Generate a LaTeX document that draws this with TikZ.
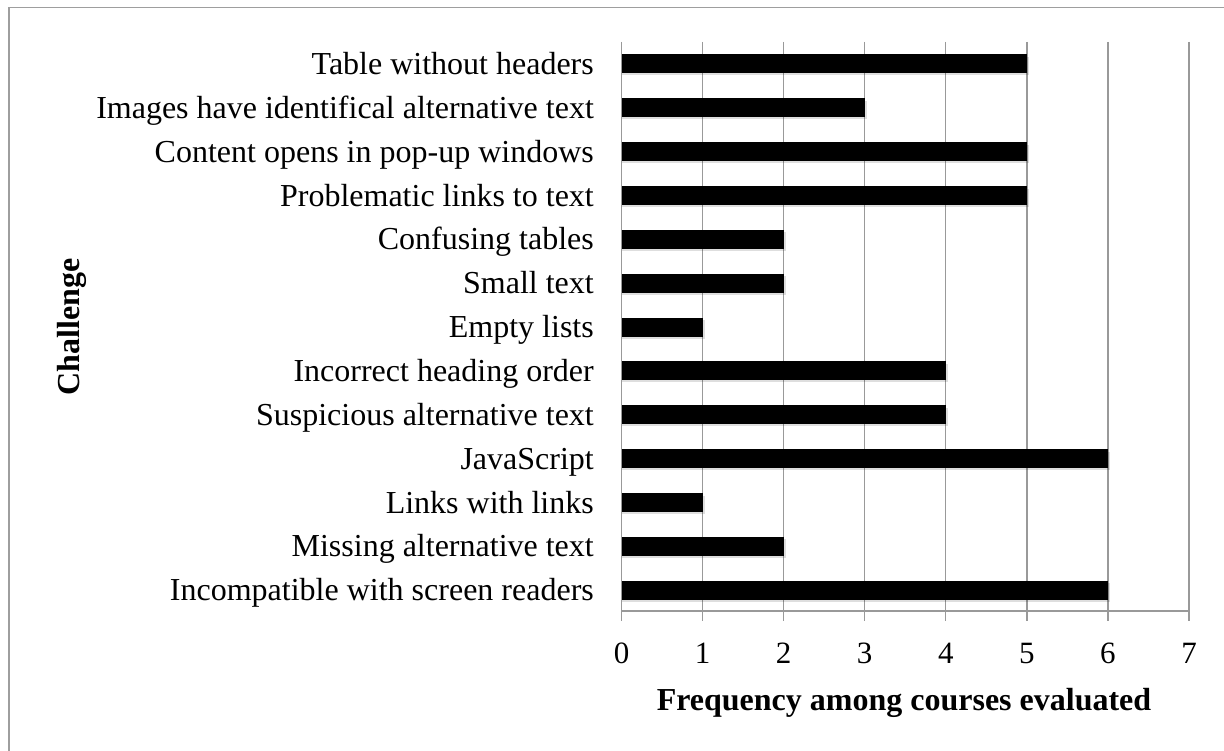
\documentclass[tikz,border=0pt]{standalone}
\usepackage{fontspec}
\setmainfont{Liberation Serif}
\usepackage{tikz}

\begin{document}
\begin{tikzpicture}
            [x=1pt, y=-1pt,
             every node/.style={inner sep=0pt},
             frame/.style={line width=1.5pt, draw=black!38},
             gridline/.style={line width=1.4pt, draw=black!40},
             bar/.style={fill=black},
             barshadow/.style={fill=black, opacity=0.13},
             catlabel/.style={anchor=base east, font=\fontsize{32}{36}\selectfont},
             ticklabel/.style={anchor=base, font=\fontsize{31}{36}\selectfont},
             axistitle/.style={font=\fontsize{32}{36}\selectfont\bfseries}]
                \useasboundingbox (0, 0) rectangle (1224, 751);
                \draw [frame] (1224, 7.5) -- (9, 7.5) -- (9, 751);
                % grid
                \draw [gridline] (702.57, 42) -- (702.57, 621);
                \draw [gridline] (783.64, 42) -- (783.64, 621);
                \draw [gridline] (864.71, 42) -- (864.71, 621);
                \draw [gridline] (945.78, 42) -- (945.78, 621);
                \draw [gridline] (1026.85, 42) -- (1026.85, 621);
                \draw [gridline] (1107.92, 42) -- (1107.92, 621);
                \draw [gridline] (1188.99, 42) -- (1188.99, 621);
                \draw [gridline] (621.5, 42) -- (621.5, 621);
                \draw [gridline] (621.5, 611) -- (1188.99, 611);
                % bars
                \fill [barshadow] (621.5, 57) rectangle (1028.85, 75.5);
                \fill [barshadow] (621.5, 100.85) rectangle (866.71, 119.35);
                \fill [barshadow] (621.5, 144.7) rectangle (1028.85, 163.2);
                \fill [barshadow] (621.5, 188.55) rectangle (1028.85, 207.05);
                \fill [barshadow] (621.5, 232.4) rectangle (785.64, 250.9);
                \fill [barshadow] (621.5, 276.25) rectangle (785.64, 294.75);
                \fill [barshadow] (621.5, 320.1) rectangle (704.57, 338.6);
                \fill [barshadow] (621.5, 363.95) rectangle (947.78, 382.45);
                \fill [barshadow] (621.5, 407.8) rectangle (947.78, 426.3);
                \fill [barshadow] (621.5, 451.65) rectangle (1109.92, 470.15);
                \fill [barshadow] (621.5, 495.5) rectangle (704.57, 514);
                \fill [barshadow] (621.5, 539.35) rectangle (785.64, 557.85);
                \fill [barshadow] (621.5, 583.2) rectangle (1109.92, 601.7);
                \fill [bar] (621.5, 54.5) rectangle (1026.85, 73.5);
                \fill [bar] (621.5, 98.35) rectangle (864.71, 117.35);
                \fill [bar] (621.5, 142.2) rectangle (1026.85, 161.2);
                \fill [bar] (621.5, 186.05) rectangle (1026.85, 205.05);
                \fill [bar] (621.5, 229.9) rectangle (783.64, 248.9);
                \fill [bar] (621.5, 273.75) rectangle (783.64, 292.75);
                \fill [bar] (621.5, 317.6) rectangle (702.57, 336.6);
                \fill [bar] (621.5, 361.45) rectangle (945.78, 380.45);
                \fill [bar] (621.5, 405.3) rectangle (945.78, 424.3);
                \fill [bar] (621.5, 449.15) rectangle (1107.92, 468.15);
                \fill [bar] (621.5, 493) rectangle (702.57, 512);
                \fill [bar] (621.5, 536.85) rectangle (783.64, 555.85);
                \fill [bar] (621.5, 580.7) rectangle (1107.92, 599.7);
                % category labels
                \node (c1) [catlabel] at (594, 74.5) {Table without headers};
                \node (c2) [catlabel] at (594, 118.35) {Images have identifical alternative text};
                \node (c3) [catlabel] at (594, 162.2) {Content opens in pop-up windows};
                \node (c4) [catlabel] at (594, 206.05) {Problematic links to text};
                \node (c5) [catlabel] at (594, 249.9) {Confusing tables};
                \node (c6) [catlabel] at (594, 293.75) {Small text};
                \node (c7) [catlabel] at (594, 337.6) {Empty lists};
                \node (c8) [catlabel] at (594, 381.45) {Incorrect heading order};
                \node (c9) [catlabel] at (594, 425.3) {Suspicious alternative text};
                \node (c10) [catlabel] at (594, 469.15) {JavaScript};
                \node (c11) [catlabel] at (594, 513) {Links with links};
                \node (c12) [catlabel] at (594, 556.85) {Missing alternative text};
                \node (c13) [catlabel] at (594, 600.7) {Incompatible with screen readers};
                % tick labels
                \node (t0) [ticklabel] at (621.5, 663) {0};
                \node (t1) [ticklabel] at (702.57, 663) {1};
                \node (t2) [ticklabel] at (783.64, 663) {2};
                \node (t3) [ticklabel] at (864.71, 663) {3};
                \node (t4) [ticklabel] at (945.78, 663) {4};
                \node (t5) [ticklabel] at (1026.85, 663) {5};
                \node (t6) [ticklabel] at (1107.92, 663) {6};
                \node (t7) [ticklabel] at (1188.99, 663) {7};
                % axis titles
                \node (xtitle) [axistitle, anchor=base] at (904, 710) {Frequency among courses evaluated};
                \node (ytitle) [axistitle, rotate=90] at (72, 327) {Challenge};
            \end{tikzpicture}
\end{document}
